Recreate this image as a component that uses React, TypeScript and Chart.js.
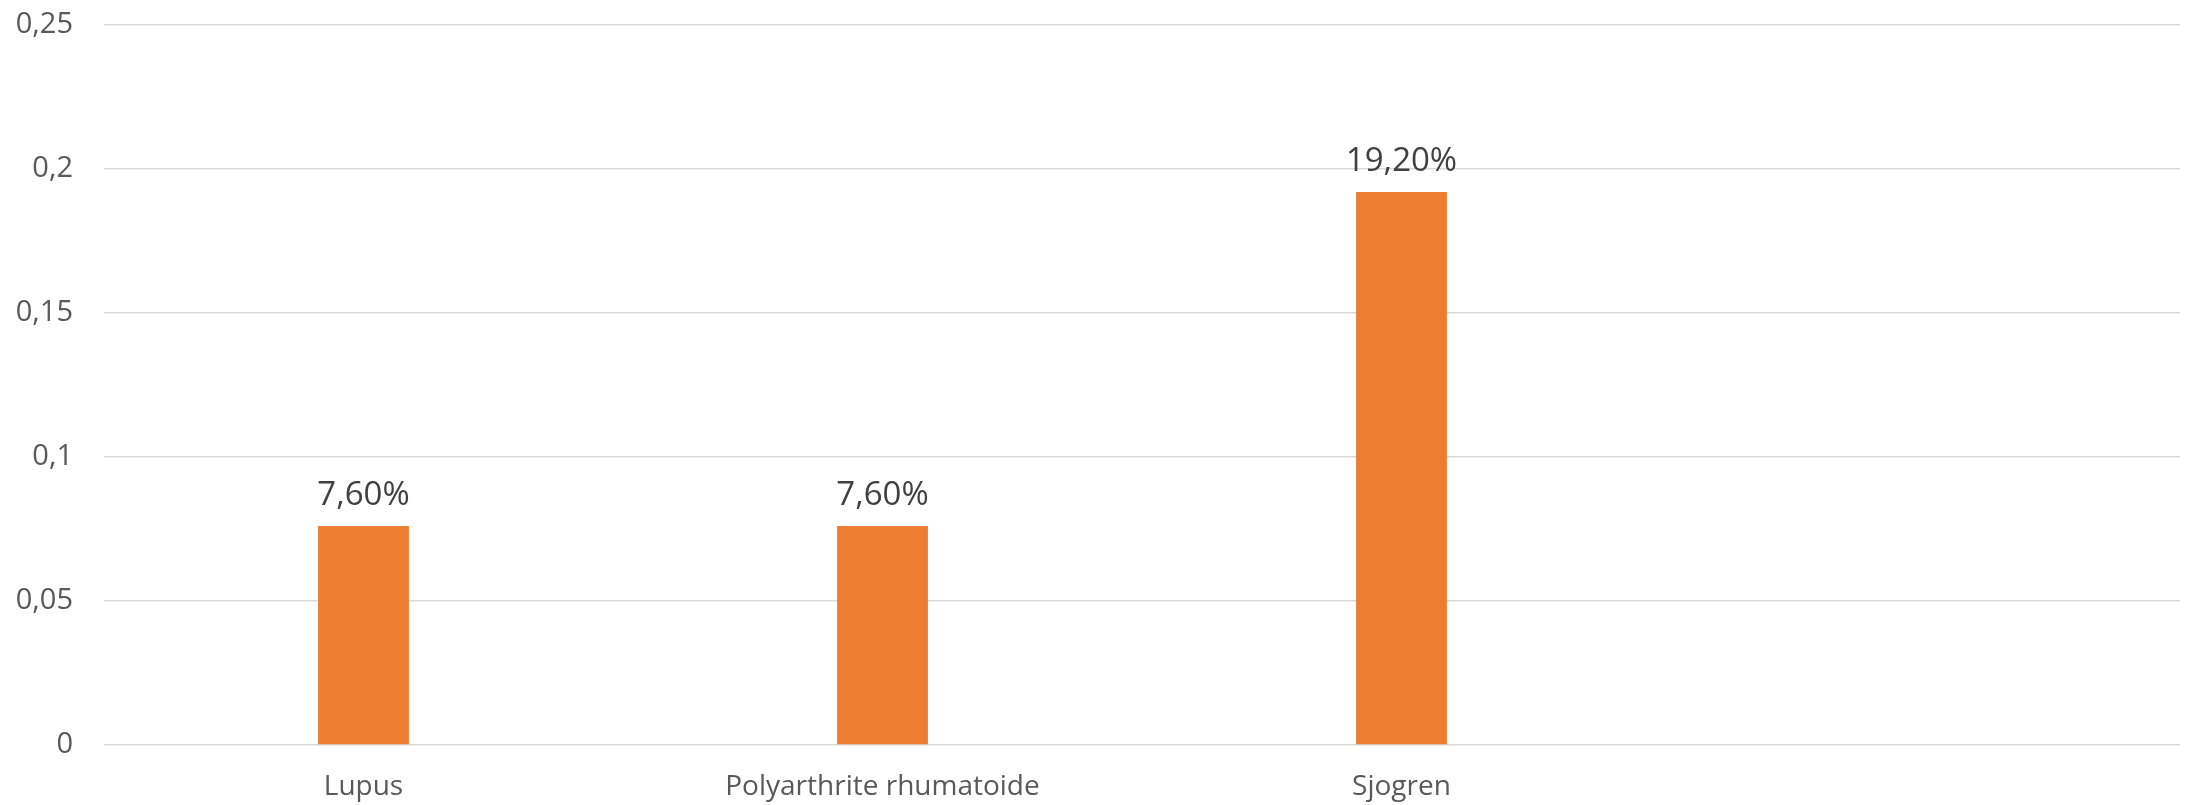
import React, { useEffect, useRef } from "react";
import { Chart, registerables } from "chart.js";

Chart.register(...registerables);

const categories = ["Lupus", "Polyarthrite rhumatoide", "Sjogren", ""];
const values: (number | null)[] = [0.076, 0.076, 0.192, null];
const valueLabels = ["7,60%", "7,60%", "19,20%", ""];
const yMax = 0.25;
const yStep = 0.05;

const FONT = "'Open Sans', 'Liberation Sans', sans-serif";

const dataLabelPlugin = {
  id: "dataLabels",
  afterDatasetsDraw(chart: any) {
    const ctx = chart.ctx;
    const meta = chart.getDatasetMeta(0);
    ctx.save();
    ctx.font = `33px ${FONT}`;
    ctx.fillStyle = "#404040";
    ctx.textAlign = "center";
    ctx.textBaseline = "alphabetic";
    meta.data.forEach((bar: any, i: number) => {
      if (values[i] == null) return;
      ctx.fillText(valueLabels[i], bar.x, bar.y - 21);
    });
    ctx.restore();
  },
};

export default function App() {
  const ref = useRef<HTMLCanvasElement>(null);
  useEffect(() => {
    if (!ref.current) return;
    const chart = new Chart(ref.current, {
      type: "bar",
      data: {
        labels: categories,
        datasets: [
          {
            data: values,
            backgroundColor: "#ED7D31",
            categoryPercentage: 1,
            barPercentage: 0.175,
          },
        ],
      },
      options: {
        animation: false,
        responsive: false,
        maintainAspectRatio: false,
        layout: { padding: { top: 25, right: 11, left: 0, bottom: 0 } },
        plugins: { legend: { display: false }, tooltip: { enabled: false } },
        scales: {
          x: {
            grid: { display: false, drawTicks: false },
            border: { display: false },
            ticks: {
              color: "#595959",
              font: { family: FONT, size: 28 },
              padding: 25,
              maxRotation: 0,
              autoSkip: false,
            },
            afterFit: (s: any) => {
              s.height = 60;
              s.paddingLeft = 0;
              s.paddingRight = 0;
            },
          },
          y: {
            min: 0,
            max: yMax,
            grid: { color: "#d9d9d9", lineWidth: 1.5, drawTicks: false },
            border: { display: false },
            ticks: {
              stepSize: yStep,
              color: "#595959",
              font: { family: FONT, size: 29 },
              padding: 31,
              callback: (v: any) => String(Math.round(Number(v) * 100) / 100).replace(".", ","),
            },
            afterFit: (s: any) => {
              s.width = 104;
              s.paddingTop = 0;
              s.paddingBottom = 0;
            },
          },
        },
      },
      plugins: [dataLabelPlugin],
    });
    return () => chart.destroy();
  }, []);
  return (
    <div style={{ position: "fixed", left: 0, top: 0, width: 2191, height: 805, background: "#fff" }}>
      <canvas ref={ref} width={2191} height={805} style={{ width: 2191, height: 805 }} />
    </div>
  );
}
